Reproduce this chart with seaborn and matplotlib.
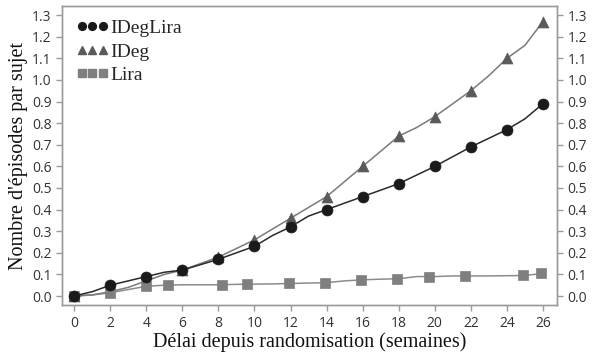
import numpy as np
import pandas as pd
import seaborn as sns
import matplotlib.pyplot as plt
from matplotlib.lines import Line2D

# Weekly curve values
weeks = list(range(27))
ideglira_curve = [0, 0.02, 0.05, 0.07, 0.09, 0.11, 0.12, 0.145, 0.17, 0.20, 0.23, 0.28, 0.32, 0.37,
                  0.40, 0.43, 0.46, 0.49, 0.52, 0.56, 0.60, 0.645, 0.69, 0.73, 0.77, 0.82, 0.89]
ideg_curve = [0, 0.005, 0.02, 0.04, 0.07, 0.10, 0.12, 0.15, 0.18, 0.22, 0.26, 0.31, 0.36, 0.41,
              0.46, 0.53, 0.60, 0.67, 0.74, 0.78, 0.83, 0.89, 0.95, 1.02, 1.10, 1.16, 1.27]
lira_curve = [0, 0.005, 0.015, 0.03, 0.045, 0.05, 0.052, 0.052, 0.052, 0.054, 0.055, 0.056, 0.058, 0.06,
              0.062, 0.07, 0.075, 0.078, 0.08, 0.09, 0.09, 0.093, 0.093, 0.093, 0.094, 0.095, 0.105]

# Marker positions
ideglira_x = [0, 2, 4, 6, 8, 10, 12, 14, 16, 18, 20, 22, 24, 26]
ideglira_y = [0, 0.05, 0.09, 0.12, 0.17, 0.23, 0.32, 0.40, 0.46, 0.52, 0.60, 0.69, 0.77, 0.89]
ideg_x = [0, 6, 8, 10, 12, 14, 16, 18, 20, 22, 24, 26]
ideg_y = [0, 0.12, 0.18, 0.26, 0.36, 0.46, 0.60, 0.74, 0.83, 0.95, 1.10, 1.27]
lira_x = [0, 2, 4, 5.2, 8.2, 9.6, 11.9, 13.9, 15.9, 17.9, 19.7, 21.7, 24.9, 25.9]
lira_y = [0, 0.015, 0.045, 0.05, 0.052, 0.055, 0.058, 0.062, 0.075, 0.08, 0.09, 0.093, 0.095, 0.105]

names = ['IDegLira', 'IDeg', 'Lira']
line_colors = ['#2a2a2a', '#7a7a7a', '#8c8c8c']
mark_colors = ['#1a1a1a', '#5a5a5a', '#7f7f7f']
markers = ['o', '^', 's']

sns.set_style('white')
plt.rcParams['font.family'] = ['Open Sans', 'DejaVu Sans']

fig = plt.figure(figsize=(5.97, 3.56), dpi=100)
ax = fig.add_axes([0.104, 0.143, 0.829, 0.84])

curves = [ideglira_curve, ideg_curve, lira_curve]
pts = [(ideglira_x, ideglira_y), (ideg_x, ideg_y), (lira_x, lira_y)]
for i in [2, 1, 0]:
    sns.lineplot(x=weeks, y=curves[i], ax=ax, color=line_colors[i], lw=1.1)
    sns.scatterplot(x=pts[i][0], y=pts[i][1], ax=ax, color=mark_colors[i], marker=markers[i],
                    s=62, edgecolor=mark_colors[i], linewidth=0.5, zorder=3)

ax.set_xlim(-0.67, 26.78)
ax.set_ylim(-0.042, 1.342)
ax.set_xticks(range(0, 27, 2))
yt = np.round(np.arange(0, 1.31, 0.1), 1)
ax.set_yticks(yt)
ax.set_yticklabels([f'{v:.1f}' for v in yt])

ax2 = ax.twinx()
ax2.set_ylim(ax.get_ylim())
ax2.set_yticks(yt)
ax2.set_yticklabels([f'{v:.1f}' for v in yt])

for a in [ax, ax2]:
    for s in a.spines.values():
        s.set_color('#9a9a9a')
        s.set_linewidth(1.0)
    a.tick_params(colors='#9a9a9a', labelcolor='#333333', labelsize=10, length=4, width=1, direction='out')
ax.tick_params(left=True, bottom=True)
ax2.tick_params(right=True)

ax.set_xlabel('Délai depuis randomisation (semaines)', family='Liberation Serif', fontsize=14.5, color='#111111', labelpad=1)
ax.set_ylabel("Nombre d'épisodes par sujet", family='Liberation Serif', fontsize=14.5, color='#111111', labelpad=3)

handles = [Line2D([], [], ls='none', marker=markers[i], color=mark_colors[i], markersize=5.6)
           for i in range(3)]
leg = ax.legend(handles, names, loc='upper left', numpoints=3, frameon=False, handlelength=1.7,
                handletextpad=0.1, labelspacing=0.3, borderaxespad=0.3,
                prop={'family': 'Liberation Serif', 'size': 14})

fig.savefig('out.png', dpi=100)
